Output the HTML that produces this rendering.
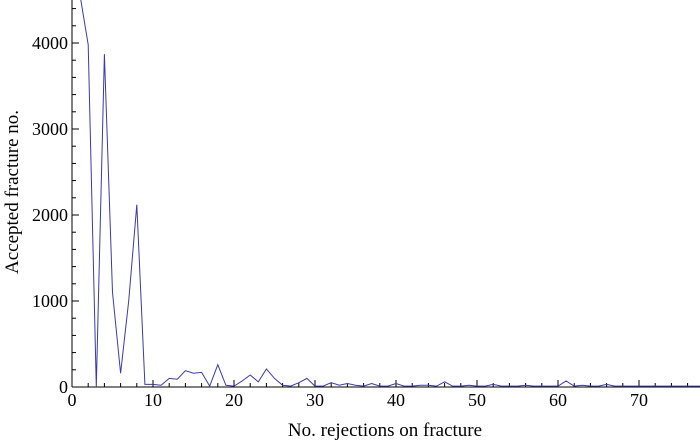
<!DOCTYPE html>
<html><head><meta charset="utf-8"><style>
body{margin:0;background:#fff}
text{font-family:"Liberation Serif",serif;fill:#000}
</style></head><body>
<svg width="700" height="442" xmlns="http://www.w3.org/2000/svg">
<g id="axes"></g>
<polyline id="series" fill="none" stroke="#3a3aa8" stroke-width="1"/>
<text x="385" y="436" font-size="19" text-anchor="middle">No. rejections on fracture</text>
<text transform="translate(18,192) rotate(-90)" font-size="19" text-anchor="middle">Accepted fracture no.</text>
</svg>
<script>
const xValues = [1,2,3,4,5,6,7,8,9,10,11,12,13,14,15,16,17,18,19,20,21,22,23,24,25,26,27,28,29,30,31,32,33,34,35,36,37,38,39,40,41,42,43,44,45,46,47,48,49,50,51,52,53,54,55,56,57,58,59,60,61,62,63,64,65,66,67,68,69,70,71,72,73,74,75,76,77,78];
const yValues = [4550,3980,0,3870,1100,160,1000,2120,30,30,20,100,90,190,160,170,10,260,20,10,70,140,60,210,100,20,10,50,100,10,10,50,20,40,20,10,40,10,10,40,10,10,20,20,10,60,10,10,20,10,10,30,10,10,10,20,10,10,10,10,70,10,20,10,10,30,10,10,10,10,10,10,10,10,10,10,10,10];
const xTicks = [0,10,20,30,40,50,60,70];
const yTicks = [0,1000,2000,3000,4000];
const X0=72, XS=8.1, Y0=387, YS=0.086;
const sx=v=>X0+v*XS, sy=v=>Y0-v*YS;
const ns="http://www.w3.org/2000/svg";
const ax=document.getElementById('axes');
function el(t,a){const e=document.createElementNS(ns,t);for(const k in a)e.setAttribute(k,a[k]);ax.appendChild(e);return e;}
let e=el('line',{x1:X0,y1:Y0,x2:700,y2:Y0,stroke:'#000'});


e=el('line',{x1:X0,y1:0,x2:X0,y2:Y0,stroke:'#000'});


for(let v=0;sx(v)<=700;v+=2){const maj=v%10===0;el('line',{x1:sx(v),y1:Y0,x2:sx(v),y2:Y0-(maj?7:4),stroke:'#000'});}
for(let v=0;sy(v)>=0;v+=200){const maj=v%1000===0;el('line',{x1:X0,y1:sy(v),x2:X0+(maj?7:4),y2:sy(v),stroke:'#000'});}
xTicks.forEach(v=>{const t=el('text',{x:sx(v),y:406,'font-size':18,'text-anchor':'middle'});t.textContent=v;

});
yTicks.forEach(v=>{const t=el('text',{x:X0-4,y:sy(v)+6,'font-size':18,'text-anchor':'end'});t.textContent=v;

});
document.getElementById('series').setAttribute('points',xValues.map((x,i)=>sx(x)+','+sy(yValues[i])).join(' '));
</script>
</body></html>
